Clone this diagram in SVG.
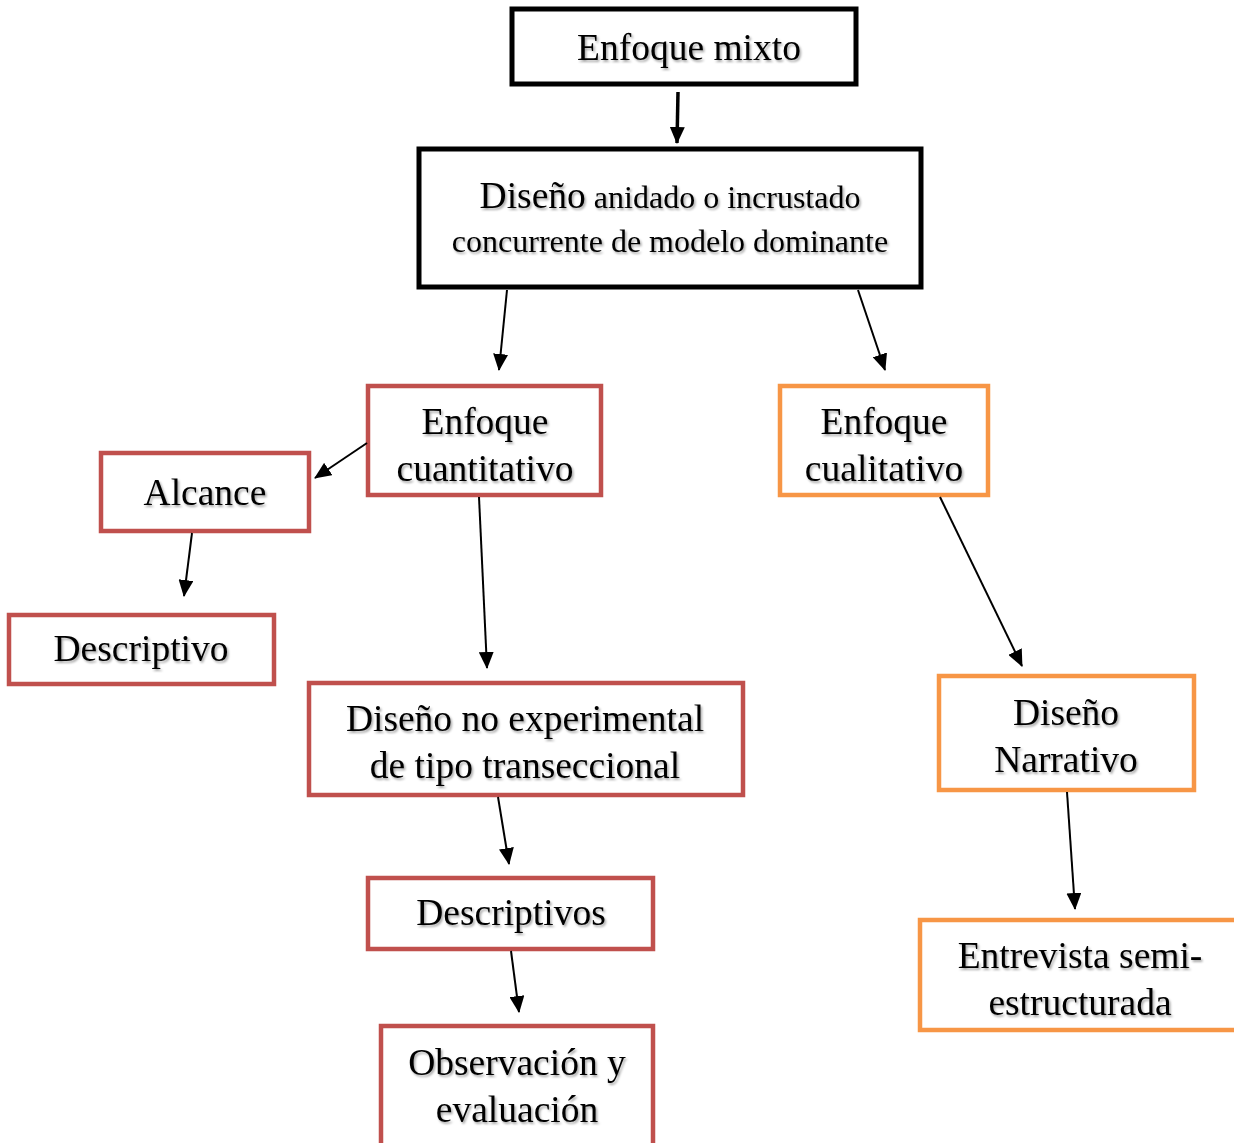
<svg xmlns="http://www.w3.org/2000/svg" width="1234" height="1143" viewBox="0 0 1234 1143">
<defs>
<filter id="sh" x="-10%" y="-20%" width="120%" height="150%">
<feDropShadow dx="1.5" dy="2" stdDeviation="1.2" flood-color="#000" flood-opacity="0.35"/>
</filter>
<marker id="ah" markerUnits="userSpaceOnUse" markerWidth="17" markerHeight="15" refX="16" refY="7.5" orient="auto">
<path d="M0,0 L17,7.5 L0,15 Z" fill="#000"/>
</marker>
</defs>
<style>
rect{fill:#fff;stroke-width:4.5}
.k{stroke:#000;stroke-width:5}
.r{stroke:#C0504D}
.o{stroke:#F79646}
text{font-family:"Liberation Serif","Times New Roman",serif;font-size:37.5px;fill:#000;text-anchor:middle;filter:url(#sh)}
.sm{font-size:32px}
#conn line{stroke:#000;stroke-width:2;marker-end:url(#ah)}
</style>
<g id="n1"><rect class="k" x="512" y="9" width="344" height="75"/><text x="689" y="60">Enfoque mixto</text></g>
<g id="n2"><rect class="k" x="419" y="149" width="502" height="138"/><text x="670" y="208">Diseño<tspan class="sm"> anidado o incrustado</tspan></text><text class="sm" x="670" y="252">concurrente de modelo dominante</text></g>
<g id="n3"><rect class="r" x="368" y="386" width="233" height="109"/><text x="485" y="434">Enfoque</text><text x="485" y="481">cuantitativo</text></g>
<g id="n4"><rect class="o" x="780" y="386" width="208" height="109"/><text x="884" y="434">Enfoque</text><text x="884" y="481">cualitativo</text></g>
<g id="n5"><rect class="r" x="101" y="453" width="208" height="78"/><text x="205" y="505">Alcance</text></g>
<g id="n6"><rect class="r" x="9" y="615" width="265" height="69"/><text x="141" y="661">Descriptivo</text></g>
<g id="n7"><rect class="r" x="309" y="683" width="434" height="112"/><text x="525" y="731">Diseño no experimental</text><text x="525" y="778">de tipo transeccional</text></g>
<g id="n8"><rect class="r" x="368" y="878" width="285" height="71"/><text x="511" y="925">Descriptivos</text></g>
<g id="n9"><rect class="r" x="381" y="1026" width="272" height="125"/><text x="517" y="1075">Observación y</text><text x="517" y="1122">evaluación</text></g>
<g id="n10"><rect class="o" x="939" y="676" width="255" height="114"/><text x="1066" y="725">Diseño</text><text x="1066" y="772">Narrativo</text></g>
<g id="n11"><rect class="o" x="920" y="920" width="330" height="110"/><text x="1080" y="968">Entrevista semi-</text><text x="1080" y="1015">estructurada</text></g>
<g id="conn">
<line x1="678" y1="92" x2="677" y2="143" style="stroke-width:3.5"/>
<line x1="507" y1="290" x2="499" y2="370"/>
<line x1="858" y1="290" x2="885" y2="370"/>
<line x1="367" y1="443" x2="315" y2="478"/>
<line x1="192" y1="533" x2="184" y2="596"/>
<line x1="479" y1="497" x2="487" y2="668"/>
<line x1="940" y1="497" x2="1022" y2="666"/>
<line x1="498" y1="797" x2="509" y2="864"/>
<line x1="511" y1="951" x2="519" y2="1012"/>
<line x1="1067" y1="792" x2="1075" y2="909"/>
</g>
</svg>
